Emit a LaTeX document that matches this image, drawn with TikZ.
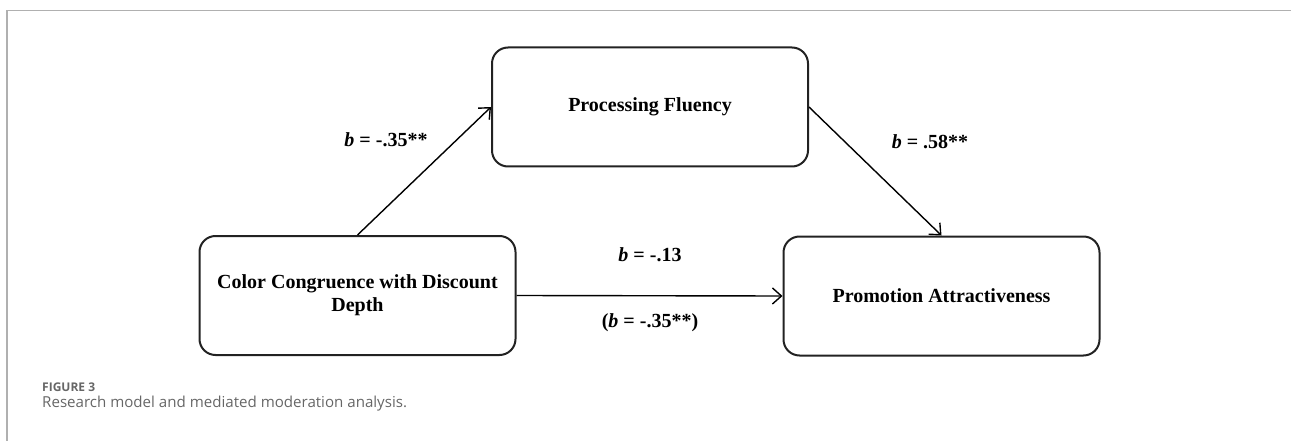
\documentclass[tikz,border=0pt]{standalone}
\usepackage{fontspec}
\setmainfont{Liberation Serif}
\newfontfamily\capfont{Open Sans}
\usetikzlibrary{arrows.meta}
\definecolor{frame}{HTML}{B0B0B0}
\definecolor{captxt}{HTML}{666666}
\definecolor{boxline}{HTML}{222222}
\tikzset{
  box/.style={draw=boxline, line width=2pt, rounded corners=16pt, minimum width=316pt, minimum height=119pt, inner sep=0pt, align=center, font=\fontsize{20}{23}\selectfont\bfseries},
  arr/.style={draw=black, line width=1.4pt, -{Straight Barb[length=9pt,width=16pt,line width=1.4pt]}},
  lab/.style={font=\fontsize{20}{23}\selectfont\bfseries, inner sep=0pt},
  capA/.style={font=\capfont\bfseries\fontsize{12}{14}\selectfont, text=captxt, inner sep=0pt, anchor=base west},
  capB/.style={font=\capfont\fontsize{15.1}{17}\selectfont, text=captxt, inner sep=0pt, anchor=base west},
}
\begin{document}
\begin{tikzpicture}[x=1pt,y=-1pt]
\useasboundingbox (0,0) rectangle (1291,441);
% frame lines
\draw[frame, line width=1.5pt] (7,441) -- (7,10.5) -- (1291,10.5);
% boxes
\node[box] (pf) at (650,107) {\raisebox{-3pt}{Processing Fluency}};
\node[box] (cc) at (357.5,295.5) {\raisebox{-8.5pt}{\begin{tabular}{@{}c@{}}Color Congruence with Discount\\[0pt]Depth\end{tabular}}};
\node[box] (pa) at (941.5,296) {Promotion Attractiveness};
% connectors
\draw[arr] (cc.north) -- (pf.west);
\draw[arr] (pf.east) -- (pa.north);
\draw[arr] (cc.east) -- (pa.west);
% labels
\node[lab] (l1) at (386,140) {\textit{b} = -.35**};
\node[lab] (l2) at (930,142) {\textit{b} = .58**};
\node[lab] (l3) at (650,255) {\textit{b} = -.13};
\node[lab] (l4) at (650,323) {(\textit{b} = -.35**)};
% caption
\node[capA] (fig) at (42,391) {FIGURE 3};
\node[capB] (cap) at (42,407.5) {Research model and mediated moderation analysis.};
\end{tikzpicture}
\end{document}
